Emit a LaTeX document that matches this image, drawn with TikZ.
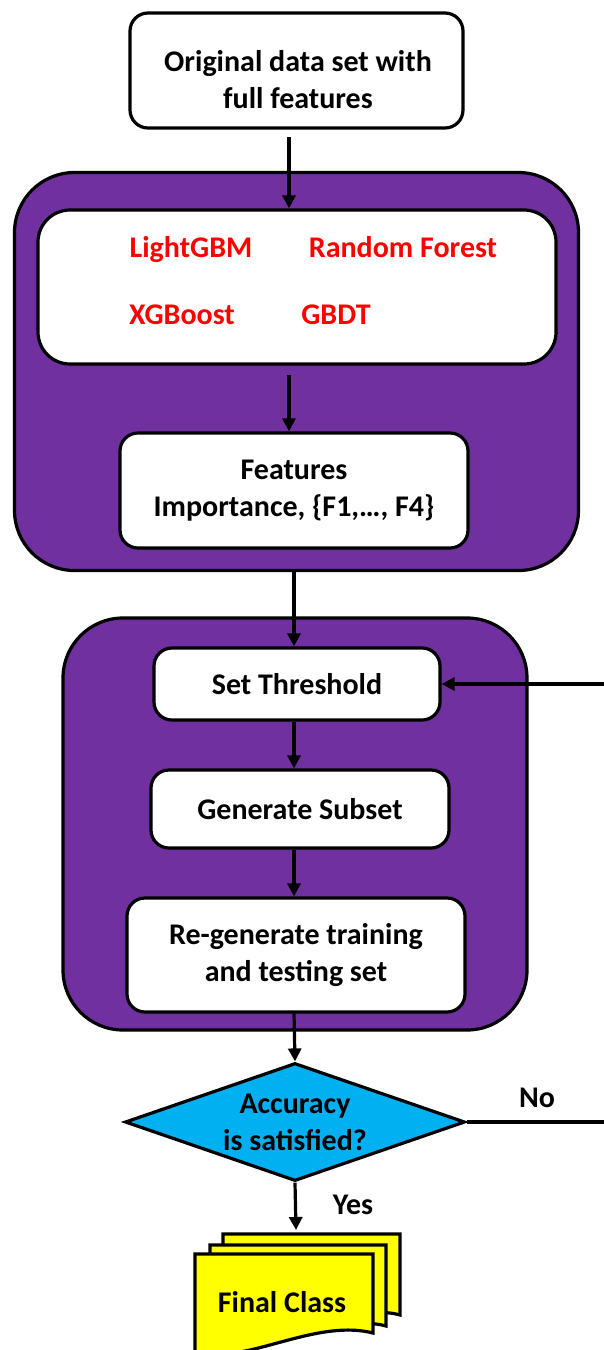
\documentclass[tikz,border=0pt]{standalone}
\usepackage{fontspec}
\setmainfont{Carlito}
\usetikzlibrary{arrows.meta,shapes.geometric}
\definecolor{pplp}{HTML}{7030A0}
\definecolor{cyanb}{HTML}{00B0F0}
\definecolor{yelb}{HTML}{FFFF00}
\definecolor{redt}{HTML}{FF0000}
\tikzset{
  lw/.style={line width=3.2pt},
  bigfont/.style={font=\bfseries\fontsize{30}{37}\selectfont},
  wbox/.style={lw, draw=black, fill=white, rounded corners=18pt, align=center, bigfont, inner sep=0pt},
  pbox/.style={lw, draw=black, fill=pplp, rounded corners=60pt, inner sep=0pt},
  arr/.style={lw, -{Triangle[length=13pt,width=13pt]}},
  redlbl/.style={text=redt, bigfont, inner sep=0pt, anchor=base},
  lbl/.style={bigfont, inner sep=0pt, align=center},
  docshape/.style={lw, draw=black, fill=yelb, line join=miter}
}
\begin{document}
\begin{tikzpicture}[x=1pt,y=-1pt]
\useasboundingbox (0,0) rectangle (603,1350);
% top box
\node[wbox, minimum width=333pt, minimum height=115pt] (orig) at (296.5,70.5) {};
\node[lbl] (origt) at (298,80) {Original data set with\\full features};
% purple container 1
\node[pbox, minimum width=564pt, minimum height=398pt] (p1) at (296.5,371.5) {};
\node[wbox, rounded corners=32pt, minimum width=518pt, minimum height=154pt] (models) at (297,287) {};
\node[redlbl] (lgbm) at (191,257) {LightGBM};
\node[redlbl] (rf) at (403,257) {Random Forest};
\node[redlbl] (xgb) at (182,324) {XGBoost};
\node[redlbl] (gbdt) at (336,324) {GBDT};
\node[wbox, minimum width=348pt, minimum height=115pt] (fi) at (294,490.5) {Features\\Importance, \{F1,…, F4\}};
% purple container 2
\node[pbox, minimum width=464pt, minimum height=412pt] (p2) at (295,824) {};
\node[wbox, minimum width=286pt, minimum height=72pt] (st) at (297,684) {Set Threshold};
\node[wbox, minimum width=298pt, minimum height=78pt] (gs) at (300,809) {Generate Subset};
\node[wbox, minimum width=338pt, minimum height=114pt] (rg) at (296,955) {Re-generate training\\and testing set};
% decision
\node[diamond, lw, draw=black, fill=cyanb, minimum width=340pt, minimum height=118pt, inner sep=0pt] (acc) at (295,1122) {};
\node[lbl] (acct) at (295,1122) {Accuracy\\is satisfied?};
% final class documents
\draw[docshape] (223,1234) -- (400,1234) -- (400,1315) .. controls (370,1306) and (330,1325) .. (223,1325) -- cycle;
\draw[docshape] (210,1245) -- (386,1245) -- (386,1326) .. controls (356,1317) and (316,1336) .. (210,1336) -- cycle;
\draw[docshape] (195,1254) -- (373,1254) -- (373,1333) .. controls (330,1322) and (280,1345) .. (240,1352) .. controls (220,1356) and (205,1358) .. (195,1358) -- cycle;
\node[lbl] (fc) at (282,1302) {Final Class};
\coordinate (fctop) at (296,1230);
% labels
\node[lbl] (no) at (537,1098) {No};
\node[lbl] (yes) at (353,1205) {Yes};
% connectors
\coordinate (c1) at (289,137);
\coordinate (c2) at (289,375);
\coordinate (c3) at (294,0);
\draw[arr] (c1) -- (c1 |- models.north);
\draw[arr] (c2) -- (c2 |- fi.north);
\draw[arr] (c3 |- p1.south) -- (c3 |- st.north);
\draw[arr] (c3 |- st.south) -- (c3 |- gs.north);
\draw[arr] (c3 |- gs.south) -- (c3 |- rg.north);
\draw[arr] (c3 |- rg.south) -- (acc.north);
\draw[arr] (acc.south) -- (fctop);
\coordinate (rt) at (607,1122);
\coordinate (rtop) at (607,684);
\draw[lw] (acc.east) -- (rt) -- (rtop);
\draw[arr] (rtop) -- (st.east);
\end{tikzpicture}
\end{document}
